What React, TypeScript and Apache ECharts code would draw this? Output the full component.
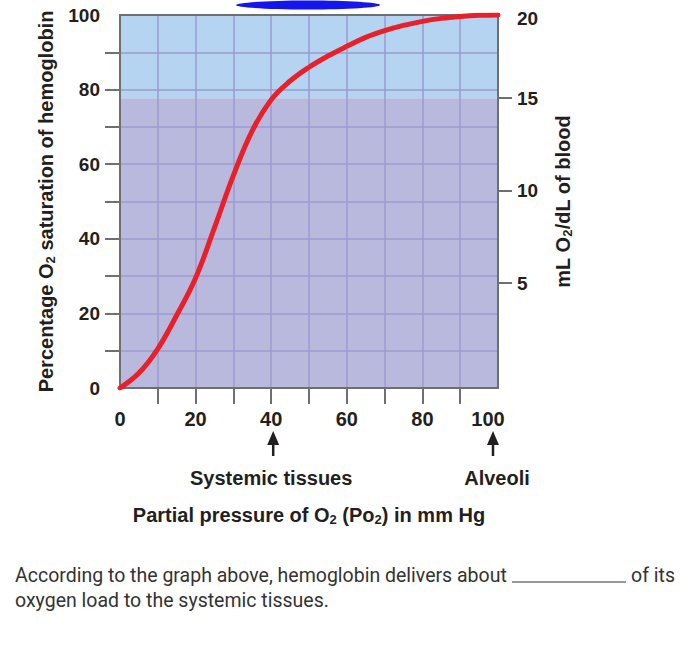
import React, { useEffect, useRef } from "react";
import * as echarts from "echarts";

// ---- data ----
const pressure = [0, 5, 10, 15, 20, 25, 30, 35, 40, 45, 50, 55, 60, 65, 70, 75, 80, 85, 90, 95, 100];
const saturation = [0, 4, 10.5, 19.5, 29.5, 43, 57, 69, 77.3, 82.3, 86, 89, 91.6, 94, 95.8, 97.2, 98.3, 99.1, 99.6, 99.9, 100];
const xLabelValues = [0, 20, 40, 60, 80, 100];
const xTickValues = [10, 20, 30, 40, 50, 60, 70, 80, 90];
const yLabelValues = [0, 20, 40, 60, 80, 100];
const yTickValues = [10, 20, 30, 40, 50, 60, 70, 80, 90];
const mlMin = 5;
const mlMax = 15;
const mlInterval = 5;
const mlTopLabel = "20";
const bandBoundary = 77.7; // % saturation equivalent of 15 mL O2/dL
const systemicPo2 = 40;
const alveoliPo2 = 100;

const FONT = "'Liberation Sans', Arial, Helvetica, sans-serif";
const TXT = "#231f20";
const AXIS = "#6f6f6f";
const BLUE = "#b5d4f1";
const PURPLE = "#b9b8dd";
const GRIDLINE = "#9b9bd1";

export default function App() {
  const ref = useRef<HTMLDivElement>(null);
  useEffect(() => {
    if (!ref.current) return;
    const chart = echarts.init(ref.current, undefined, { renderer: "svg" });
    const bold = (size: number) => ({
      fontFamily: FONT,
      fontWeight: "bold" as const,
      fontSize: size,
      color: TXT,
    });
    const nameRich = {
      a: { ...bold(20), lineHeight: 22 },
      s: { ...bold(13), lineHeight: 6, verticalAlign: "bottom" },
    };
    const option: any = {
      animation: false,
      grid: [
        { left: 120, right: 193, top: 15, bottom: 257 },
        { left: 120, right: 193, top: 98, bottom: 362 },
      ],
      xAxis: [
        {
          type: "value",
          gridIndex: 0,
          min: 0,
          max: 100,
          interval: 10,
          z: 2,
          axisLine: { show: true, onZero: false, lineStyle: { color: AXIS, width: 2 } },
          axisTick: { show: true, customValues: xTickValues, length: 16, lineStyle: { color: AXIS, width: 2 } },
          axisLabel: {
            customValues: xLabelValues,
            margin: 21,
            ...bold(20),
            formatter: (v: number) => (v === 100 ? "{r|100}" : String(v)),
            rich: { r: { ...bold(20), padding: [0, 20, 0, 0] } },
          },
          splitLine: { show: true, lineStyle: { color: GRIDLINE, width: 1.5 } },
          name: "{a|Partial pressure of O}{s|2}{a| (Po}{s|2}{a|) in mm Hg}",
          nameLocation: "middle",
          nameGap: 116,
          nameTextStyle: { rich: nameRich },
        },
        {
          type: "value",
          gridIndex: 0,
          position: "top",
          min: 0,
          max: 100,
          z: 2,
          axisLine: { show: true, onZero: false, lineStyle: { color: AXIS, width: 2 } },
          axisTick: { show: false },
          axisLabel: { show: false },
          splitLine: { show: false },
        },
        {
          type: "value",
          gridIndex: 1,
          min: 0,
          max: 100,
          show: false,
        },
      ],
      yAxis: [
        {
          type: "value",
          gridIndex: 0,
          min: 0,
          max: 100,
          interval: 10,
          z: 2,
          axisLine: { show: true, onZero: false, lineStyle: { color: AXIS, width: 2 } },
          axisTick: { show: true, customValues: yTickValues, length: 15, lineStyle: { color: AXIS, width: 2 } },
          axisLabel: { customValues: yLabelValues, margin: 20, ...bold(19) },
          splitLine: { show: true, lineStyle: { color: GRIDLINE, width: 1.5 } },
          name: "{a|Percentage O}{s|2}{a| saturation of hemoglobin}",
          nameLocation: "middle",
          nameRotate: 90,
          nameGap: 62,
          nameTextStyle: { rich: nameRich },
        },
        {
          type: "value",
          gridIndex: 0,
          position: "right",
          min: 0,
          max: 100,
          z: 2,
          axisLine: { show: true, onZero: false, lineStyle: { color: AXIS, width: 2 } },
          axisTick: { show: false },
          axisLabel: { show: false },
          splitLine: { show: false },
          name: "{a|mL O}{s|2}{a|/dL of blood}",
          nameLocation: "middle",
          nameRotate: 90,
          nameGap: 54,
          nameTextStyle: { rich: nameRich },
        },
        {
          type: "value",
          gridIndex: 1,
          position: "right",
          min: mlMin,
          max: mlMax,
          interval: mlInterval,
          z: 2,
          axisLine: { show: false, onZero: false },
          axisTick: { show: true, length: 14, lineStyle: { color: AXIS, width: 2 } },
          axisLabel: { margin: 19, ...bold(19) },
          splitLine: { show: false },
        },
      ],
      series: [
        {
          type: "line",
          xAxisIndex: 0,
          yAxisIndex: 0,
          data: [],
          z: 1,
          silent: true,
          markArea: {
            silent: true,
            data: [
              [{ yAxis: 0, itemStyle: { color: PURPLE } }, { yAxis: bandBoundary }],
              [{ yAxis: bandBoundary, itemStyle: { color: BLUE } }, { yAxis: 100 }],
            ],
          },
        },
        {
          type: "line",
          xAxisIndex: 0,
          yAxisIndex: 0,
          data: pressure.map((p, i) => [p, saturation[i]]),
          smooth: 0.4,
          showSymbol: false,
          z: 3,
          lineStyle: { color: "#e8202a", width: 5, cap: "round" },
        },
      ],
    };
    chart.setOption(option);

    const px = (v: number) => chart.convertToPixel({ xAxisIndex: 0 }, v) as number;
    const xAxisY = chart.convertToPixel({ yAxisIndex: 0 }, 0) as number;
    const topY = chart.convertToPixel({ yAxisIndex: 0 }, 100) as number;
    const rightX = px(100);

    const arrow = (x: number) => [
      {
        type: "polygon",
        shape: { points: [[x, xAxisY + 43], [x - 6, xAxisY + 57], [x + 6, xAxisY + 57]] },
        style: { fill: TXT },
      },
      {
        type: "line",
        shape: { x1: x, y1: xAxisY + 55, x2: x, y2: xAxisY + 68 },
        style: { stroke: TXT, lineWidth: 2.5 },
      },
    ];
    const sysX = px(systemicPo2) + 2;
    const alvX = px(alveoliPo2) - 5;
    const qFont = "19.5px Roboto, 'Noto Sans', sans-serif";
    chart.setOption({
      graphic: [
        {
          type: "ellipse",
          shape: { cx: 308, cy: 5, rx: 72, ry: 4.5 },
          style: { fill: "#1515ee" },
        },
        {
          type: "text",
          style: {
            x: rightX + 19,
            y: topY + 3,
            text: mlTopLabel,
            font: `bold 19px ${FONT}`,
            fill: TXT,
            verticalAlign: "middle",
          },
        },
        ...arrow(sysX),
        ...arrow(alvX),
        {
          type: "text",
          style: {
            x: sysX - 2,
            y: xAxisY + 90,
            text: "Systemic tissues",
            font: `bold 20px ${FONT}`,
            fill: TXT,
            align: "center",
            verticalAlign: "middle",
          },
        },
        {
          type: "text",
          style: {
            x: alvX + 4,
            y: xAxisY + 90,
            text: "Alveoli",
            font: `bold 20px ${FONT}`,
            fill: TXT,
            align: "center",
            verticalAlign: "middle",
          },
        },
        {
          type: "text",
          style: {
            x: 15,
            y: 575,
            text: "According to the graph above, hemoglobin delivers about",
            font: qFont,
            fill: "#333333",
            verticalAlign: "middle",
          },
        },
        {
          type: "line",
          shape: { x1: 512, y1: 582, x2: 626, y2: 582 },
          style: { stroke: "#333333", lineWidth: 1 },
        },
        {
          type: "text",
          style: {
            x: 675,
            y: 575,
            text: "of its",
            font: qFont,
            fill: "#333333",
            align: "right",
            verticalAlign: "middle",
          },
        },
        {
          type: "text",
          style: {
            x: 15,
            y: 600,
            text: "oxygen load to the systemic tissues.",
            font: qFont,
            fill: "#333333",
            verticalAlign: "middle",
          },
        },
      ],
    });
    return () => chart.dispose();
  }, []);
  return (
    <div
      ref={ref}
      style={{ position: "fixed", left: 0, top: 0, width: 691, height: 645, background: "#ffffff" }}
    />
  );
}
